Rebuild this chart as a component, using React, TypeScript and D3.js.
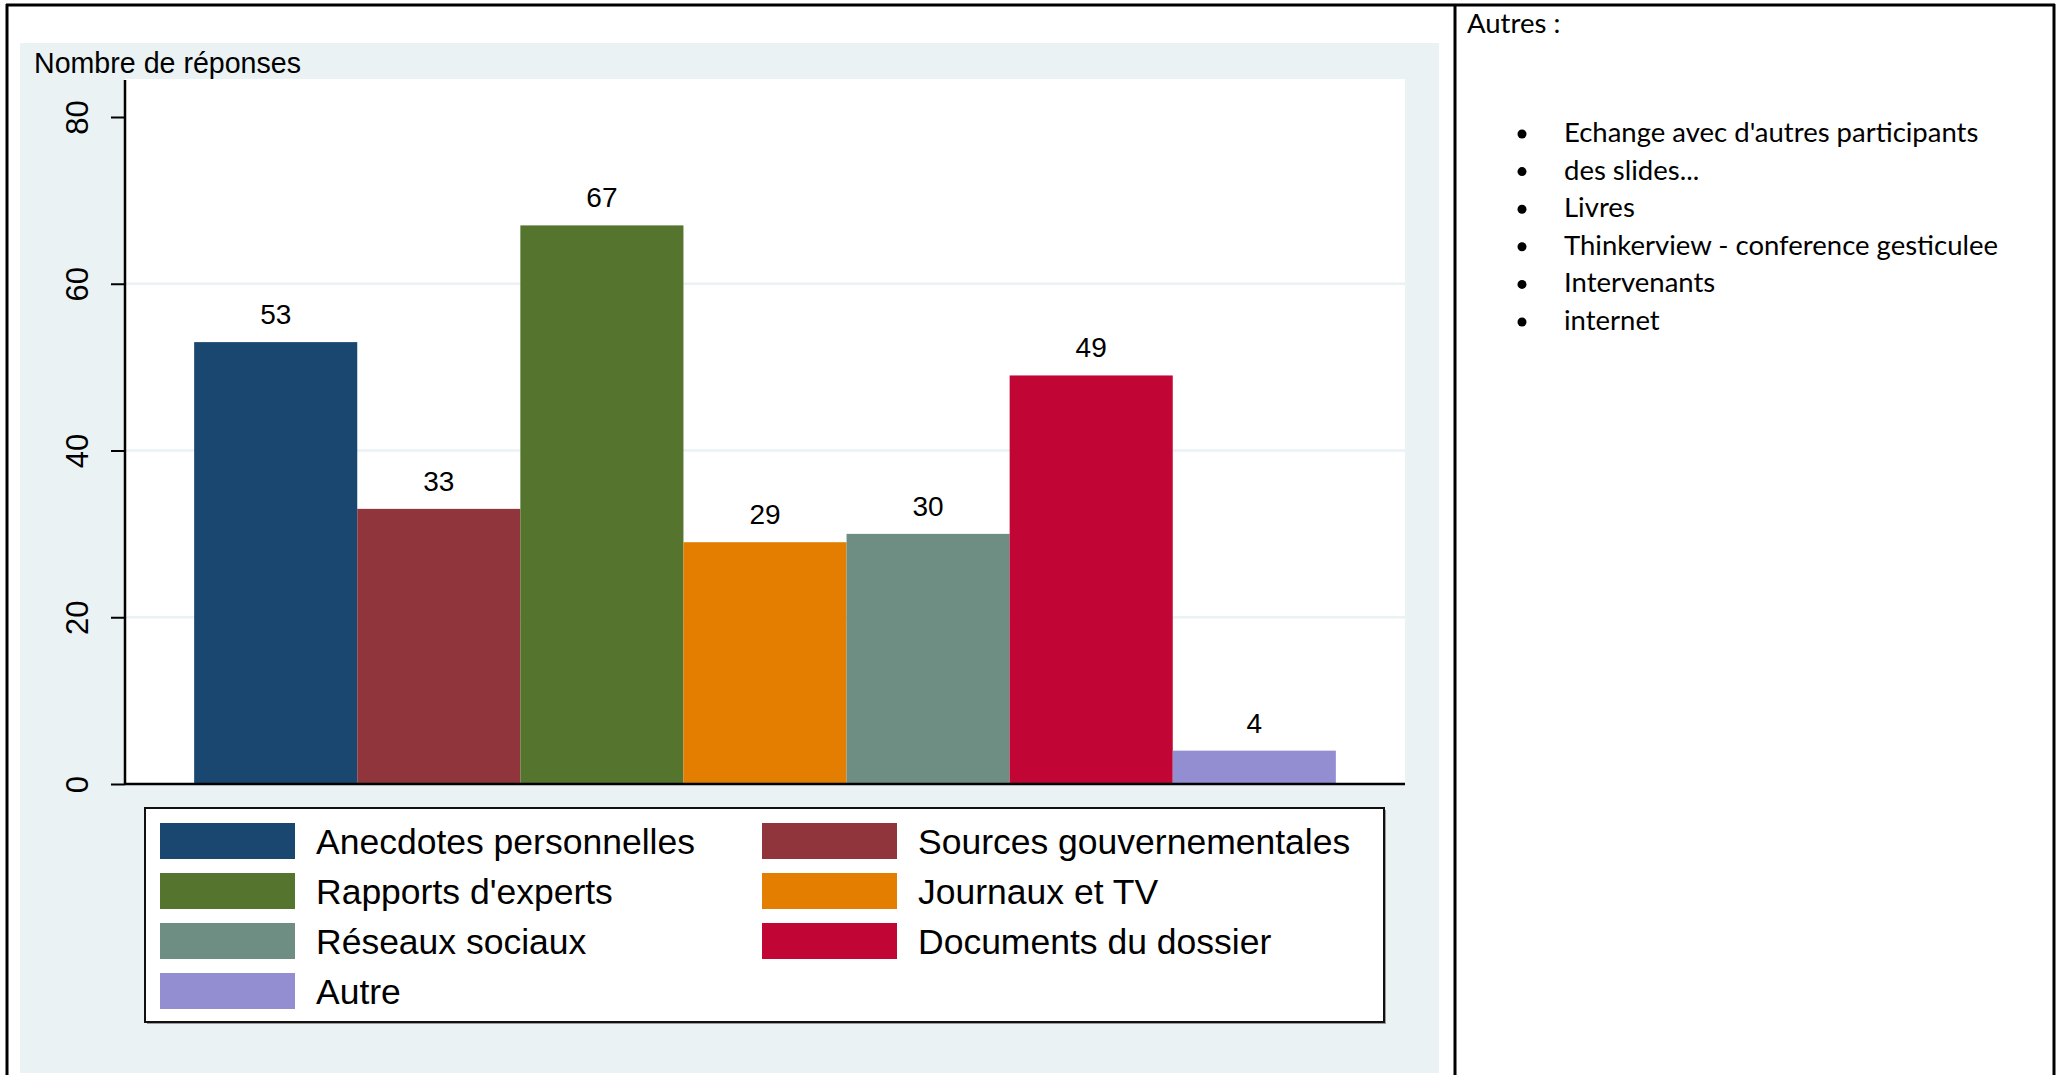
import React, { useRef, useEffect } from "react";
import * as d3 from "d3";

const categories = [
  "Anecdotes personnelles",
  "Sources gouvernementales",
  "Rapports d'experts",
  "Journaux et TV",
  "Réseaux sociaux",
  "Documents du dossier",
  "Autre",
];
const counts = [53, 33, 67, 29, 30, 49, 4];
const barColors = ["#1a476f", "#90353b", "#55752f", "#e37e00", "#6e8e84", "#c10534", "#938dd2"];
const yTicks = [0, 20, 40, 60, 80];
const otherAnswers = [
  "Echange avec d'autres participants",
  "des slides...",
  "Livres",
  "Thinkerview - conference gesticulee",
  "Intervenants",
  "internet",
];

const W = 2067;
const H = 1075;
const plot = { left: 125, right: 1405, top: 80, bottom: 784 };
const chartFont = "'Liberation Sans', Arial, sans-serif";
const sideFont = "Lato, 'Open Sans', sans-serif";

const App: React.FC = () => {
  const svgRef = useRef<SVGSVGElement | null>(null);

  useEffect(() => {
    if (!svgRef.current) return;
    const svg = d3.select(svgRef.current);
    svg.selectAll("*").remove();

    svg.append("rect").attr("width", W).attr("height", H).attr("fill", "white");

    // light graph region
    svg
      .append("rect")
      .attr("x", 20)
      .attr("y", 43)
      .attr("width", 1419)
      .attr("height", 1030)
      .attr("fill", "#eaf2f3");

    // plot region
    svg
      .append("rect")
      .attr("x", plot.left)
      .attr("y", plot.top - 1)
      .attr("width", plot.right - plot.left)
      .attr("height", plot.bottom - plot.top + 1)
      .attr("fill", "white");

    const y = d3.scaleLinear().domain([0, 80]).range([plot.bottom, 117]);
    const x = d3
      .scaleBand<string>()
      .domain(categories)
      .range([plot.left, plot.right])
      .paddingInner(0)
      .paddingOuter(0.424);

    // gridlines
    svg
      .append("g")
      .selectAll("line")
      .data(yTicks.filter((t) => t > 0 && t < 80))
      .enter()
      .append("line")
      .attr("x1", plot.left)
      .attr("x2", plot.right)
      .attr("y1", (d) => y(d))
      .attr("y2", (d) => y(d))
      .attr("stroke", "#eaf2f3")
      .attr("stroke-width", 2.5);

    // bars
    const bars = svg.append("g");
    bars
      .selectAll("rect")
      .data(categories)
      .enter()
      .append("rect")
      .attr("x", (d) => x(d) as number)
      .attr("width", x.bandwidth())
      .attr("y", (_, i) => y(counts[i]))
      .attr("height", (_, i) => y(0) - y(counts[i]))
      .attr("fill", (_, i) => barColors[i]);

    // value labels
    bars
      .selectAll("text")
      .data(categories)
      .enter()
      .append("text")
      .attr("x", (d) => (x(d) as number) + x.bandwidth() / 2)
      .attr("y", (_, i) => y(counts[i]) - 18)
      .attr("text-anchor", "middle")
      .attr("font-family", chartFont)
      .attr("font-size", 28)
      .attr("fill", "#000")
      .text((_, i) => String(counts[i]));

    // y axis
    const yAxisGroup = svg
      .append("g")
      .attr("transform", `translate(${plot.left},0)`)
      .call(d3.axisLeft(y).tickValues(yTicks).tickSize(14).tickPadding(0).tickFormat((d) => String(d)));
    yAxisGroup.select(".domain").remove();
    yAxisGroup.selectAll(".tick line").attr("stroke", "#000").attr("stroke-width", 2);
    yAxisGroup
      .selectAll(".tick text")
      .attr("transform", "rotate(-90)")
      .attr("x", 0)
      .attr("y", -37)
      .attr("dy", 0)
      .attr("text-anchor", "middle")
      .attr("font-family", chartFont)
      .attr("font-size", 31)
      .attr("fill", "#000");

    svg
      .append("line")
      .attr("x1", plot.left)
      .attr("x2", plot.left)
      .attr("y1", plot.top)
      .attr("y2", plot.bottom + 1)
      .attr("stroke", "#000")
      .attr("stroke-width", 2.5);
    svg
      .append("line")
      .attr("x1", plot.left)
      .attr("x2", plot.right)
      .attr("y1", plot.bottom)
      .attr("y2", plot.bottom)
      .attr("stroke", "#000")
      .attr("stroke-width", 2.5);

    // axis title
    svg
      .append("text")
      .attr("x", 34)
      .attr("y", 73)
      .attr("font-family", chartFont)
      .attr("font-size", 28.6)
      .attr("fill", "#000")
      .text("Nombre de réponses");

    // legend
    const legend = svg.append("g");
    legend
      .append("rect")
      .attr("x", 147)
      .attr("y", 810)
      .attr("width", 1239)
      .attr("height", 214)
      .attr("fill", "#9a9a9a");
    legend
      .append("rect")
      .attr("x", 145)
      .attr("y", 808)
      .attr("width", 1239)
      .attr("height", 214)
      .attr("fill", "white")
      .attr("stroke", "#111")
      .attr("stroke-width", 2);

    const colX = [160, 762];
    const item = legend
      .selectAll("g.item")
      .data(categories)
      .enter()
      .append("g")
      .attr("class", "item")
      .attr("transform", (_, i) => `translate(${colX[i % 2]},${823 + Math.floor(i / 2) * 50})`);
    item
      .append("rect")
      .attr("width", 135)
      .attr("height", 36)
      .attr("fill", (_, i) => barColors[i]);
    item
      .append("text")
      .attr("x", 156)
      .attr("y", 31)
      .attr("font-family", chartFont)
      .attr("font-size", 35.5)
      .attr("fill", "#000")
      .text((d) => d);

    // frame lines
    const frame = svg.append("g").attr("stroke", "#000").attr("stroke-width", 3);
    frame.append("line").attr("x1", 6).attr("x2", 2055).attr("y1", 5).attr("y2", 5);
    frame.append("line").attr("x1", 7).attr("x2", 7).attr("y1", 4).attr("y2", H);
    frame.append("line").attr("x1", 2054).attr("x2", 2054).attr("y1", 4).attr("y2", H);
    frame.append("line").attr("x1", 1455).attr("x2", 1455).attr("y1", 4).attr("y2", H);

    // right side notes
    svg
      .append("text")
      .attr("x", 1467)
      .attr("y", 33)
      .attr("font-family", sideFont)
      .attr("font-size", 27.5)
      .attr("fill", "#000")
      .text("Autres :");

    const list = svg
      .selectAll("g.note")
      .data(otherAnswers)
      .enter()
      .append("g")
      .attr("class", "note")
      .attr("transform", (_, i) => `translate(0,${142 + i * 37.6})`);
    list.append("circle").attr("cx", 1522).attr("cy", -8).attr("r", 4.5).attr("fill", "#000");
    list
      .append("text")
      .attr("x", 1564)
      .attr("y", 0)
      .attr("font-family", sideFont)
      .attr("font-size", 27.5)
      .attr("fill", "#000")
      .text((d) => d);
  }, []);

  return (
    <svg
      ref={svgRef}
      width={W}
      height={H}
      style={{ position: "absolute", left: 0, top: 0, display: "block" }}
    />
  );
};

export default App;
